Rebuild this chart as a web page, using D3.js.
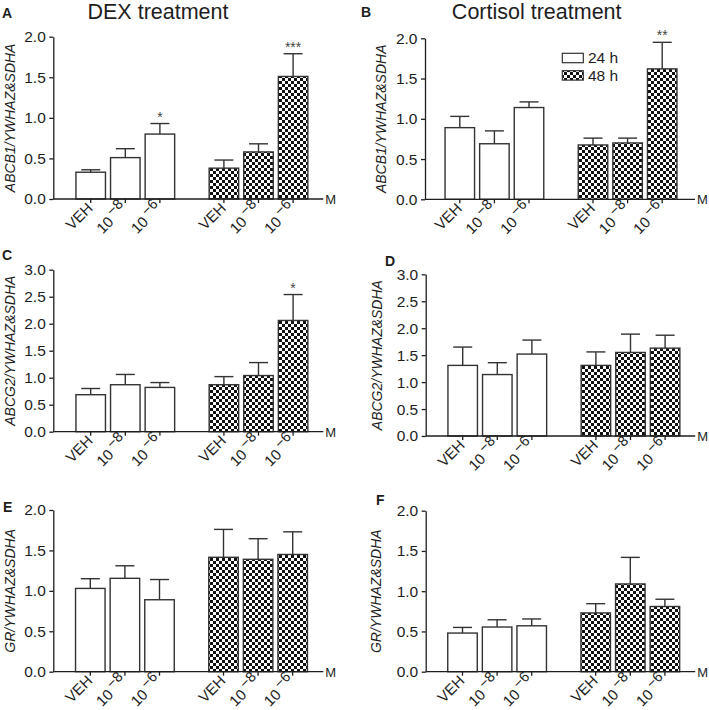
<!DOCTYPE html>
<html>
<head>
<meta charset="utf-8">
<script src="https://cdn.jsdelivr.net/npm/d3@7"></script>
<style>
  body { margin: 0; background: #fff; }
  svg { display: block; font-family: "Liberation Sans", Arial, sans-serif; }
</style>
</head>
<body>
<svg id="chart" width="709" height="710"></svg>
<script>
// ---- data ----
const doses = ["VEH", "10-8", "10-6"];
const groups = ["24 h", "48 h"];
const titles = ["DEX treatment", "Cortisol treatment"];
const ticks2 = [0, 0.5, 1.0, 1.5, 2.0];
const ticks3 = [0, 0.5, 1.0, 1.5, 2.0, 2.5, 3.0];

// Panel A: ABCB1, DEX
const aMean24 = [0.33, 0.51, 0.80];
const aSem24  = [0.03, 0.11, 0.13];
const aMean48 = [0.38, 0.58, 1.51];
const aSem48  = [0.10, 0.10, 0.28];
const aStars24 = ["", "", "*"];
const aStars48 = ["", "", "***"];
// Panel B: ABCB1, cortisol
const bMean24 = [0.89, 0.69, 1.14];
const bSem24  = [0.14, 0.16, 0.07];
const bMean48 = [0.675, 0.70, 1.62];
const bSem48  = [0.085, 0.06, 0.33];
const bStars24 = ["", "", ""];
const bStars48 = ["", "", "**"];
// Panel C: ABCG2, DEX
const cMean24 = [0.685, 0.87, 0.82];
const cSem24  = [0.115, 0.19, 0.09];
const cMean48 = [0.87, 1.04, 2.06];
const cSem48  = [0.15, 0.24, 0.48];
const cStars24 = ["", "", ""];
const cStars48 = ["", "", "*"];
// Panel D: ABCG2, cortisol
const dMean24 = [1.31, 1.14, 1.52];
const dSem24  = [0.34, 0.22, 0.26];
const dMean48 = [1.31, 1.55, 1.63];
const dSem48  = [0.25, 0.34, 0.24];
// Panel E: GR, DEX
const eMean24 = [1.03, 1.155, 0.89];
const eSem24  = [0.12, 0.155, 0.25];
const eMean48 = [1.415, 1.39, 1.45];
const eSem48  = [0.345, 0.255, 0.28];
// Panel F: GR, cortisol
const fMean24 = [0.48, 0.555, 0.57];
const fSem24  = [0.07, 0.09, 0.085];
const fMean48 = [0.73, 1.09, 0.81];
const fSem48  = [0.115, 0.33, 0.09];
const noStars = ["", "", ""];

const panels = [
  {letter: "A", ylab: "ABCB1/YWHAZ&SDHA", ymax: 2, ticks: ticks2, m24: aMean24, s24: aSem24, m48: aMean48, s48: aSem48, st24: aStars24, st48: aStars48,
   x0: 53.3, c1: 37.4, y0: 199, yTop: 36.7, lx: 15, letX: 2, letY: 17.5, axLen: 270, legend: false},
  {letter: "B", ylab: "ABCB1/YWHAZ&SDHA", ymax: 2, ticks: ticks2, m24: bMean24, s24: bSem24, m48: bMean48, s48: bSem48, st24: bStars24, st48: bStars48,
   x0: 425, c1: 34.8, y0: 199.3, yTop: 38.3, lx: 386, letX: 361, letY: 17, axLen: 270, legend: true},
  {letter: "C", ylab: "ABCG2/YWHAZ&SDHA", ymax: 3, ticks: ticks3, m24: cMean24, s24: cSem24, m48: cMean48, s48: cSem48, st24: cStars24, st48: cStars48,
   x0: 53.3, c1: 37.4, y0: 431.7, yTop: 269.7, lx: 15, letX: 2, letY: 260, axLen: 270, legend: false},
  {letter: "D", ylab: "ABCG2/YWHAZ&SDHA", ymax: 3, ticks: ticks3, m24: dMean24, s24: dSem24, m48: dMean48, s48: dSem48, st24: noStars, st48: noStars,
   x0: 425.7, c1: 37, y0: 436, yTop: 274.3, lx: 382, letX: 385, letY: 265.5, axLen: 269.5, legend: false},
  {letter: "E", ylab: "GR/YWHAZ&SDHA", ymax: 2, ticks: ticks2, m24: eMean24, s24: eSem24, m48: eMean48, s48: eSem48, st24: noStars, st48: noStars,
   x0: 53.3, c1: 37, y0: 671.7, yTop: 510, lx: 15, letX: 3, letY: 511.5, axLen: 270, legend: false},
  {letter: "F", ylab: "GR/YWHAZ&SDHA", ymax: 2, ticks: ticks2, m24: fMean24, s24: fSem24, m48: fMean48, s48: fSem48, st24: noStars, st48: noStars,
   x0: 425.7, c1: 36.8, y0: 671.7, yTop: 510.7, lx: 381, letX: 376, letY: 505, axLen: 269.5, legend: false}
];

const svg = d3.select("#chart");
const ink = "#1e1e1e";
const barStroke = "#333";

// checker pattern
const defs = svg.append("defs");
const pat = defs.append("pattern").attr("id", "checker")
  .attr("patternUnits", "userSpaceOnUse").attr("width", 6).attr("height", 6);
pat.append("rect").attr("width", 6).attr("height", 6).attr("fill", "#fff");
pat.append("rect").attr("x", 0).attr("y", 0).attr("width", 3).attr("height", 3).attr("fill", "#111");
pat.append("rect").attr("x", 3).attr("y", 3).attr("width", 3).attr("height", 3).attr("fill", "#111");

// titles
svg.append("text").attr("x", 158).attr("y", 18.5).attr("text-anchor", "middle")
  .attr("font-size", 21.5).attr("fill", ink).text(titles[0]);
svg.append("text").attr("x", 536.7).attr("y", 18.5).attr("text-anchor", "middle")
  .attr("font-size", 21.5).attr("fill", ink).text(titles[1]);

const groupWidth = 103.8;
const groupStep = 133.2;

panels.forEach(p => {
  const g = svg.append("g");
  const y = d3.scaleLinear().domain([0, p.ymax]).range([p.y0, p.yTop]);
  const start = p.x0 + p.c1 - groupWidth / 6;
  const outer = d3.scaleBand().domain(groups)
    .range([start, start + groupStep + groupWidth])
    .paddingInner(1 - groupWidth / groupStep).paddingOuter(0);
  const inner = d3.scaleBand().domain(doses).range([0, outer.bandwidth()])
    .paddingInner(0.147).paddingOuter(0.0735);

  // data rows
  const rows = [];
  groups.forEach((gr, gi) => {
    const means = gi === 0 ? p.m24 : p.m48;
    const sems = gi === 0 ? p.s24 : p.s48;
    const stars = gi === 0 ? p.st24 : p.st48;
    doses.forEach((d, di) => rows.push({group: gr, gi, dose: d, mean: means[di], sem: sems[di], star: stars[di]}));
  });

  // bars
  g.selectAll("rect.bar").data(rows).enter().append("rect")
    .attr("x", d => outer(d.group) + inner(d.dose))
    .attr("y", d => y(d.mean))
    .attr("width", inner.bandwidth())
    .attr("height", d => p.y0 - y(d.mean))
    .attr("fill", d => d.gi === 0 ? "#fff" : "url(#checker)")
    .attr("stroke", barStroke).attr("stroke-width", 1.4);

  // error bars
  const cx = d => outer(d.group) + inner(d.dose) + inner.bandwidth() / 2;
  g.selectAll("line.err").data(rows).enter().append("line")
    .attr("x1", cx).attr("x2", cx)
    .attr("y1", d => y(d.mean)).attr("y2", d => y(d.mean + d.sem))
    .attr("stroke", barStroke).attr("stroke-width", 1.4);
  g.selectAll("line.cap").data(rows).enter().append("line")
    .attr("x1", d => cx(d) - 9.5).attr("x2", d => cx(d) + 9.5)
    .attr("y1", d => y(d.mean + d.sem)).attr("y2", d => y(d.mean + d.sem))
    .attr("stroke", barStroke).attr("stroke-width", 1.4);
  g.selectAll("text.star").data(rows.filter(r => r.star)).enter().append("text")
    .attr("x", cx).attr("y", d => y(d.mean + d.sem) - 2)
    .attr("text-anchor", "middle").attr("font-size", 14).attr("fill", "#444")
    .text(d => d.star);

  // y axis
  const yAxis = d3.axisLeft(y).tickValues(p.ticks).tickFormat(d3.format(".1f")).tickSize(4).tickSizeOuter(0);
  const ya = g.append("g").attr("transform", `translate(${p.x0},0)`).call(yAxis);
  ya.select(".domain").attr("stroke", ink).attr("stroke-width", 1.3);
  ya.selectAll(".tick line").attr("stroke", ink).attr("stroke-width", 1.3);
  ya.selectAll(".tick text").attr("font-size", 15.5).attr("fill", ink)
    .attr("font-family", "Liberation Sans, Arial, sans-serif").attr("x", -7.5);

  // x axis line
  g.append("line").attr("x1", p.x0).attr("x2", p.x0 + p.axLen)
    .attr("y1", p.y0).attr("y2", p.y0).attr("stroke", ink).attr("stroke-width", 1.3);
  g.append("text").attr("x", p.x0 + p.axLen + 2).attr("y", p.y0 + 5)
    .attr("font-size", 13).attr("fill", ink).text("M");

  // x ticks and labels
  rows.forEach(r => {
    const x = cx(r);
    g.append("line").attr("x1", x).attr("x2", x).attr("y1", p.y0).attr("y2", p.y0 + 4)
      .attr("stroke", ink).attr("stroke-width", 1.3);
    const t = g.append("text")
      .attr("transform", `translate(${x + 3},${p.y0 + 10}) rotate(-45)`)
      .attr("text-anchor", "end").attr("font-size", 15).attr("fill", ink);
    if (r.dose === "VEH") {
      t.text("VEH");
    } else {
      t.append("tspan").text("10");
      t.append("tspan").attr("dx", 3).attr("dy", -6).attr("font-size", 14.5).text("\u2212" + r.dose.split("-")[1]);
    }
  });

  // y label
  g.append("text")
    .attr("transform", `translate(${p.lx},${(p.y0 + p.yTop) / 2}) rotate(-90)`)
    .attr("text-anchor", "middle").attr("font-size", 14).attr("font-style", "italic")
    .attr("fill", ink).text(p.ylab);

  // panel letter
  g.append("text").attr("x", p.letX).attr("y", p.letY)
    .attr("font-size", 14).attr("font-weight", "bold").attr("fill", ink).text(p.letter);

  // legend
  if (p.legend) {
    const lg = g.append("g");
    const items = [{label: groups[0], fill: "#fff"}, {label: groups[1], fill: "url(#checker)"}];
    items.forEach((it, i) => {
      const yy = 53.3 + i * 17.4;
      lg.append("rect").attr("x", 562.3).attr("y", yy).attr("width", 21).attr("height", 9.4)
        .attr("fill", it.fill).attr("stroke", barStroke).attr("stroke-width", 1.2);
      lg.append("text").attr("x", 588).attr("y", yy + 10).attr("font-size", 15.5)
        .attr("fill", ink).text(it.label);
    });
  }
});
</script>
</body>
</html>
